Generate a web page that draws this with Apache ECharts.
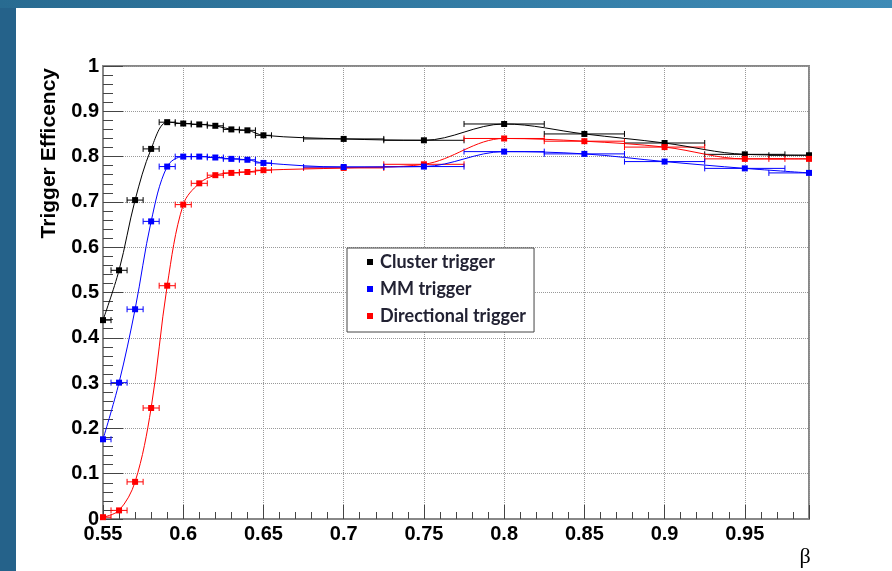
<!DOCTYPE html>
<html>
<head>
<meta charset="utf-8">
<script src="https://cdn.jsdelivr.net/npm/echarts@6/dist/echarts.min.js"></script>
<style>
  html, body { margin: 0; padding: 0; }
  body { width: 892px; height: 571px; position: relative; overflow: hidden; background: #25628a; }
  #topband { position: absolute; left: 0; top: 0; width: 892px; height: 8px; background: linear-gradient(to right, #286b91, #3e8bb6); }
  #paper { position: absolute; left: 16px; top: 8px; width: 876px; height: 563px; background: #fff; }
  #main { position: absolute; left: 0; top: 0; width: 892px; height: 571px; }
</style>
</head>
<body>
<div id="topband"></div>
<div id="paper"></div>
<div id="main"></div>
<script>
// beta bins and their half widths
const betaValues = [0.55, 0.56, 0.57, 0.58, 0.59, 0.60, 0.61, 0.62, 0.63, 0.64, 0.65, 0.70, 0.75, 0.80, 0.85, 0.90, 0.95, 0.99]
const betaErrors = [0.005, 0.005, 0.005, 0.005, 0.005, 0.005, 0.005, 0.005, 0.005, 0.005, 0.005, 0.025, 0.025, 0.025, 0.025, 0.025, 0.025, 0.025]

const clusterEff = [0.439, 0.549, 0.704, 0.817, 0.876, 0.873, 0.871, 0.868, 0.860, 0.858, 0.847, 0.839, 0.836, 0.872, 0.850, 0.830, 0.805, 0.803]
const mmEff = [0.176, 0.301, 0.463, 0.657, 0.778, 0.800, 0.800, 0.798, 0.795, 0.793, 0.786, 0.777, 0.778, 0.811, 0.806, 0.789, 0.774, 0.764]
const directionalEff = [0.004, 0.019, 0.082, 0.245, 0.515, 0.694, 0.741, 0.759, 0.764, 0.766, 0.770, 0.775, 0.783, 0.840, 0.834, 0.821, 0.795, 0.795]

const seriesNames = ["Cluster trigger", "MM trigger", "Directional trigger"]
const seriesColors = ["#000000", "#0000ff", "#ff0000"]

const X_MIN = 0.55
const X_MAX = 0.99

const errorBars = (name, color, values) => ({
  name: name,
  type: "custom",
  clip: true,
  z: 2,
  itemStyle: { color: color },
  encode: { x: 0, y: 1 },
  data: betaValues.map((b, i) => [b, values[i], betaErrors[i]]),
  renderItem: (params, api) => {
    const x = api.value(0)
    const y = api.value(1)
    const e = api.value(2)
    const lo = api.coord([Math.max(x - e, X_MIN), y])
    const hi = api.coord([Math.min(x + e, X_MAX), y])
    const style = { stroke: color, lineWidth: 1 }
    const kids = [
      { type: "line", shape: { x1: lo[0], y1: lo[1], x2: hi[0], y2: hi[1] }, style: style },
    ]
    if (x - e >= X_MIN - 1e-9) {
      kids.push({ type: "line", shape: { x1: lo[0], y1: lo[1] - 3, x2: lo[0], y2: lo[1] + 3 }, style: style })
    }
    if (x + e <= X_MAX + 1e-9) {
      kids.push({ type: "line", shape: { x1: hi[0], y1: hi[1] - 3, x2: hi[0], y2: hi[1] + 3 }, style: style })
    }
    return { type: "group", children: kids }
  },
})

const curve = (name, color, values) => ({
  name: name,
  type: "line",
  smooth: 0.35,
  z: 3,
  symbol: "rect",
  symbolSize: 6,
  showSymbol: true,
  showAllSymbol: true,
  color: color,
  lineStyle: { color: color, width: 1 },
  itemStyle: { color: color },
  emphasis: { disabled: true },
  data: betaValues.map((b, i) => [b, values[i]]),
})

const myChart = echarts.init(document.getElementById("main"), null, { renderer: "canvas" })

const labelFont = {
  fontFamily: "Liberation Sans",
  fontWeight: "bold",
  fontSize: 20,
  color: "#000",
}

const option = {
  animation: false,
  backgroundColor: "transparent",
  grid: {
    left: 103,
    top: 66,
    right: 83,
    bottom: 52,
    show: true,
    borderColor: "#888",
    borderWidth: 2,
  },
  legend: {
    data: seriesNames,
    orient: "vertical",
    left: 347,
    top: 248,
    icon: "rect",
    itemWidth: 6,
    itemHeight: 6,
    itemGap: 7,
    padding: [4, 8, 6, 20],
    backgroundColor: "#fff",
    borderColor: "#444",
    borderWidth: 1,
    selectedMode: false,
    textStyle: {
      fontFamily: "Lato",
      fontWeight: "bold",
      fontSize: 18,
      lineHeight: 20,
      color: "#222233",
      padding: [0, 0, 0, 2],
    },
  },
  xAxis: {
    type: "value",
    min: X_MIN,
    max: X_MAX,
    interval: 0.05,
    axisLine: { lineStyle: { color: "#888", width: 2 } },
    axisTick: { inside: true, length: 14, lineStyle: { color: "#444" } },
    minorTick: { show: true, splitNumber: 5, length: 7, lineStyle: { color: "#444" } },
    splitLine: { show: true, lineStyle: { type: "dotted", color: "#999", width: 1 } },
    axisLabel: Object.assign({ margin: 5, showMaxLabel: false, formatter: v => String(+v.toFixed(2)) }, labelFont),
  },
  yAxis: {
    type: "value",
    min: 0,
    max: 1,
    interval: 0.1,
    axisLine: { lineStyle: { color: "#888", width: 2 } },
    axisTick: { inside: true, length: 20, lineStyle: { color: "#444" } },
    minorTick: { show: true, splitNumber: 5, length: 10, lineStyle: { color: "#444" } },
    splitLine: { show: true, lineStyle: { type: "dotted", color: "#999", width: 1 } },
    axisLabel: Object.assign({ margin: 4, formatter: v => String(+v.toFixed(1)) }, labelFont),
  },
  graphic: [
    {
      type: "text",
      x: 49,
      y: 68,
      rotation: Math.PI / 2,
      style: {
        text: "Trigger Efficency",
        align: "right",
        verticalAlign: "middle",
        font: "bold 21px 'Liberation Sans'",
        fill: "#000",
      },
    },
    {
      type: "text",
      x: 805,
      y: 557,
      style: {
        text: "β",
        align: "center",
        verticalAlign: "middle",
        font: "22px 'Liberation Serif'",
        fill: "#000",
      },
    },
  ],
  series: [
    errorBars(seriesNames[0], seriesColors[0], clusterEff),
    errorBars(seriesNames[2], seriesColors[2], directionalEff),
    errorBars(seriesNames[1], seriesColors[1], mmEff),
    curve(seriesNames[0], seriesColors[0], clusterEff),
    curve(seriesNames[2], seriesColors[2], directionalEff),
    curve(seriesNames[1], seriesColors[1], mmEff),
  ],
}

option && myChart.setOption(option)
</script>
</body>
</html>
